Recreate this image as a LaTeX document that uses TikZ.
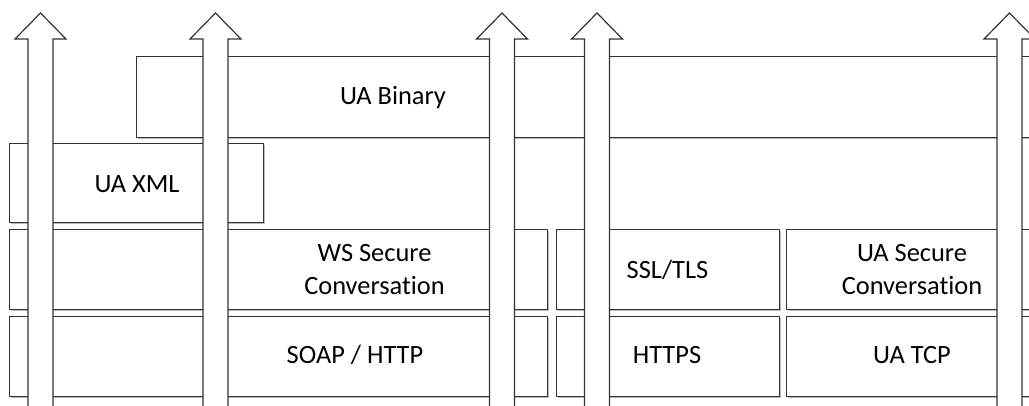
\documentclass[tikz,border=0pt]{standalone}
\usepackage{fontspec}
\setmainfont{Carlito}[Ligatures=NoCommon]
\usetikzlibrary{shadows}

\begin{document}
\begin{tikzpicture}[x=1bp, y=-1bp,
    layerbox/.style={draw=black!80, fill=white, line width=1.2bp, inner sep=0pt, anchor=north west,
        drop shadow={shadow xshift=1.3bp, shadow yshift=-1.6bp, fill=black!45, opacity=.6}},
    layertext/.style={font=\fontsize{26.5}{33}\selectfont, text=black, align=center, inner sep=0pt},
    uparrow/.style={draw=black!80, fill=white, line width=1.2bp, line join=miter},
    ]

    \useasboundingbox (0,0) rectangle (1029,405);
    \clip (0,0) rectangle (1029,405);

    % layers
    \node[layerbox, minimum width=924, minimum height=81] (bin) at (136,56) {};
    \node[layerbox, minimum width=255, minimum height=79] (xml) at (9,143) {};
    \node[layerbox, minimum width=540, minimum height=80] (wssc) at (9,229) {};
    \node[layerbox, minimum width=224, minimum height=80] (tls) at (556,229) {};
    \node[layerbox, minimum width=274, minimum height=80] (uasc) at (786,229) {};
    \node[layerbox, minimum width=540, minimum height=80] (soap) at (9,316) {};
    \node[layerbox, minimum width=224, minimum height=80] (https) at (556,316) {};
    \node[layerbox, minimum width=274, minimum height=80] (uatcp) at (786,316) {};

    % labels
    \node[layertext, anchor=base] (bintext) at (393,104) {UA Binary};
    \node[layertext, anchor=base] (xmltext) at (137,192) {UA XML};
    \node[layertext] (wssctext) at (374.5,269.5) {WS Secure\\Conversation};
    \node[layertext, anchor=base] (tlstext) at (667.5,278) {SSL/TLS};
    \node[layertext] (uasctext) at (912,269.5) {UA Secure\\Conversation};
    \node[layertext, anchor=base] (soaptext) at (355,363) {SOAP / HTTP};
    \node[layertext, anchor=base] (httpstext) at (667,363) {HTTPS};
    \node[layertext, anchor=base] (uatcptext) at (912,363) {UA TCP};

    % arrows
    \foreach \c in {40.5, 215.5, 502, 597, 1009.5}
        \draw[uparrow] (\c-12.5,420) -- (\c-12.5,39) -- (\c-25.5,39) -- (\c,13)
            -- (\c+25.5,39) -- (\c+12.5,39) -- (\c+12.5,420);
\end{tikzpicture}
\end{document}
